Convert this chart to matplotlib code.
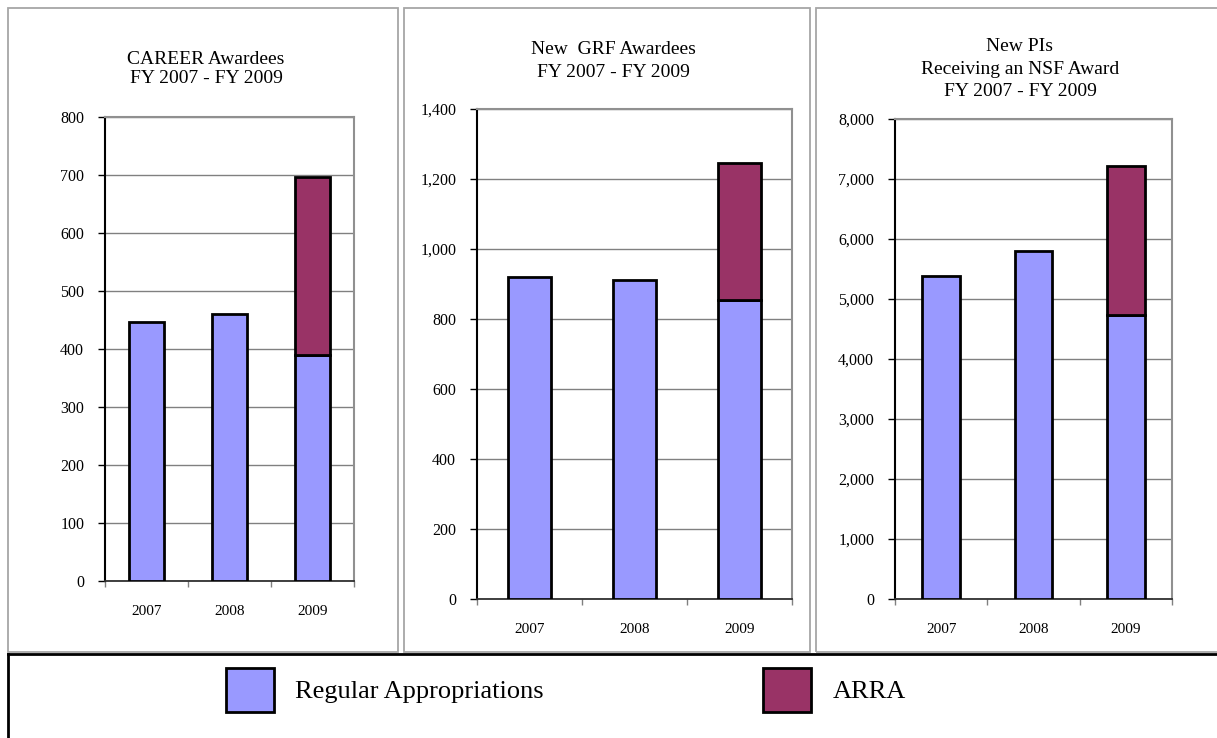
import matplotlib
matplotlib.use("Agg")
import matplotlib.pyplot as plt
from matplotlib.patches import Rectangle
from matplotlib.lines import Line2D
from matplotlib.ticker import FuncFormatter, FixedLocator

plt.rcParams['font.family'] = ['Liberation Serif', 'DejaVu Serif']

years = ['2007', '2008', '2009']

career_regular = [447, 460, 389]
career_arra = [0, 0, 308]

grf_regular = [920, 911, 855]
grf_arra = [0, 0, 390]

pis_regular = [5383, 5797, 4733]
pis_arra = [0, 0, 2484]

titles = [
    "CAREER Awardees\nFY 2007 - FY 2009",
    "New  GRF Awardees\nFY 2007 - FY 2009",
    "New PIs\nReceiving an NSF Award\nFY 2007 - FY 2009",
]
y_limits = [800, 1400, 8000]
y_steps = [100, 200, 1000]

REG_COLOR = '#9999FF'
ARRA_COLOR = '#993366'
W, H = 1217, 738

fig = plt.figure(figsize=(W / 100, H / 100), dpi=100)


def fx(px):
    return px / W


def fy(py):
    return 1 - py / H


# panel frames (pixel boxes: left, top, right, bottom)
frames = [(8, 8, 398, 652), (404, 8, 810, 652), (816, 8, 1226, 652)]
for l, t, r, b in frames:
    fig.patches.append(Rectangle((fx(l), fy(b)), fx(r - l), fy(t) - fy(b),
                                 transform=fig.transFigure, fill=False,
                                 edgecolor='#a6a6a6', linewidth=1.3))

# legend box edges
fig.lines.append(Line2D([fx(8), fx(1230)], [fy(654), fy(654)],
                        transform=fig.transFigure, color='black', linewidth=2))
fig.lines.append(Line2D([fx(8), fx(8)], [fy(654), fy(760)],
                        transform=fig.transFigure, color='black', linewidth=2))

# axes boxes (pixel: left, top, right, bottom)
axes_boxes = [(105, 117, 354, 581), (477, 109, 792, 599), (895, 119, 1172, 599)]
title_pos = [(206, 69, 1.12), (613, 61, 1.45), (1020, 69, 1.45)]

series = [(career_regular, career_arra), (grf_regular, grf_arra), (pis_regular, pis_arra)]

for i, (l, t, r, b) in enumerate(axes_boxes):
    ax = fig.add_axes([fx(l), fy(b), fx(r - l), fy(t) - fy(b)])
    reg, arra = series[i]
    x = list(range(len(years)))
    ax.bar(x, reg, width=0.41, color=REG_COLOR, edgecolor='black', linewidth=2, zorder=3)
    ax.bar(x, arra, width=0.41, bottom=reg, color=ARRA_COLOR, edgecolor='black',
           linewidth=2, zorder=3)
    # hide zero-height ARRA bars
    for p, v in zip(ax.patches[len(years):], arra):
        if v == 0:
            p.set_visible(False)

    ax.set_xlim(-0.5, 2.5)
    ax.set_ylim(0, y_limits[i])
    yt = list(range(0, y_limits[i] + 1, y_steps[i]))
    ax.set_yticks(yt)
    ax.yaxis.set_major_formatter(FuncFormatter(lambda v, p: f"{int(v):,}"))
    ax.grid(axis='y', color='#808080', linewidth=1, zorder=0)
    ax.set_axisbelow(True)

    ax.set_xticks(x)
    ax.set_xticklabels(years)
    ax.xaxis.set_minor_locator(FixedLocator([-0.5, 0.5, 1.5, 2.5]))
    ax.tick_params(axis='x', which='major', length=0, pad=17, labelsize=11)
    ax.tick_params(axis='x', which='minor', length=4, color='#808080', width=1, direction='out')
    ax.tick_params(axis='y', which='major', length=5, pad=10, labelsize=11.5,
                   color='black', width=1)

    ax.spines['left'].set_color('black')
    ax.spines['left'].set_linewidth(1.5)
    ax.spines['bottom'].set_color('#303030')
    ax.spines['bottom'].set_linewidth(1.3)
    for s in ('top', 'right'):
        ax.spines[s].set_color('#909090')
        ax.spines[s].set_linewidth(1.5)

    tx, ty, ls = title_pos[i]
    fig.text(fx(tx), fy(ty), titles[i], ha='center', va='center', fontsize=14,
             linespacing=ls)

# legend entries
for lx, col in [(226, REG_COLOR), (763, ARRA_COLOR)]:
    fig.patches.append(Rectangle((fx(lx), fy(712)), fx(48), fy(668) - fy(712),
                                 transform=fig.transFigure, facecolor=col,
                                 edgecolor='black', linewidth=2))
for lx, label in [(295, 'Regular Appropriations'), (833, 'ARRA')]:
    fig.text(fx(lx), fy(692), label, ha='left', va='center', fontsize=19)

fig.savefig('out.png', dpi=100, facecolor='white')
